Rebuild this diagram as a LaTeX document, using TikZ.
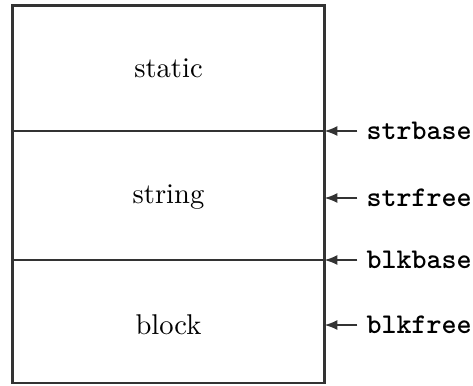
\documentclass[tikz,border=0pt]{standalone}
\usetikzlibrary{arrows.meta}
\begin{document}
\begin{tikzpicture}[x=0.35pt,y=-0.35pt,
  frame/.style={line width=1pt, draw=black!80},
  divider/.style={line width=0.6pt, draw=black!80},
  region/.style={font=\normalsize},
  ptr/.style={font=\ttfamily\bfseries, anchor=west, inner sep=0pt},
  ptrarrow/.style={line width=0.6pt, draw=black!80, -{Latex[length=4.5pt,width=3.5pt]}}]
  \useasboundingbox (0,0) rectangle (473,385);

  % memory layout box
  \coordinate (tl) at (12.5,5.5);
  \coordinate (br) at (324.5,383);
  \draw[frame] (tl) rectangle (br);
  \coordinate (d1l) at (12.5,131);
  \coordinate (d1r) at (324.5,131);
  \coordinate (d2l) at (12.5,260);
  \coordinate (d2r) at (324.5,260);
  \draw[divider] (d1l) -- (d1r);
  \draw[divider] (d2l) -- (d2r);

  % region names
  \node[region] (static) at (168.5,68) {static};
  \node[region] (string) at (168.5,197) {string};
  \node[region] (block)  at (168.5,325) {block};

  % pointers into the memory
  \node[ptr] (strbase) at (366,131) {strbase};
  \node[ptr] (strfree) at (366,198) {strfree};
  \node[ptr] (blkbase) at (366,260) {blkbase};
  \node[ptr] (blkfree) at (366,325) {blkfree};

  \foreach \p in {strbase,strfree,blkbase,blkfree}
    \draw[ptrarrow] ([xshift=-3pt]\p.west) -- (\p.west -| br);
\end{tikzpicture}
\end{document}
